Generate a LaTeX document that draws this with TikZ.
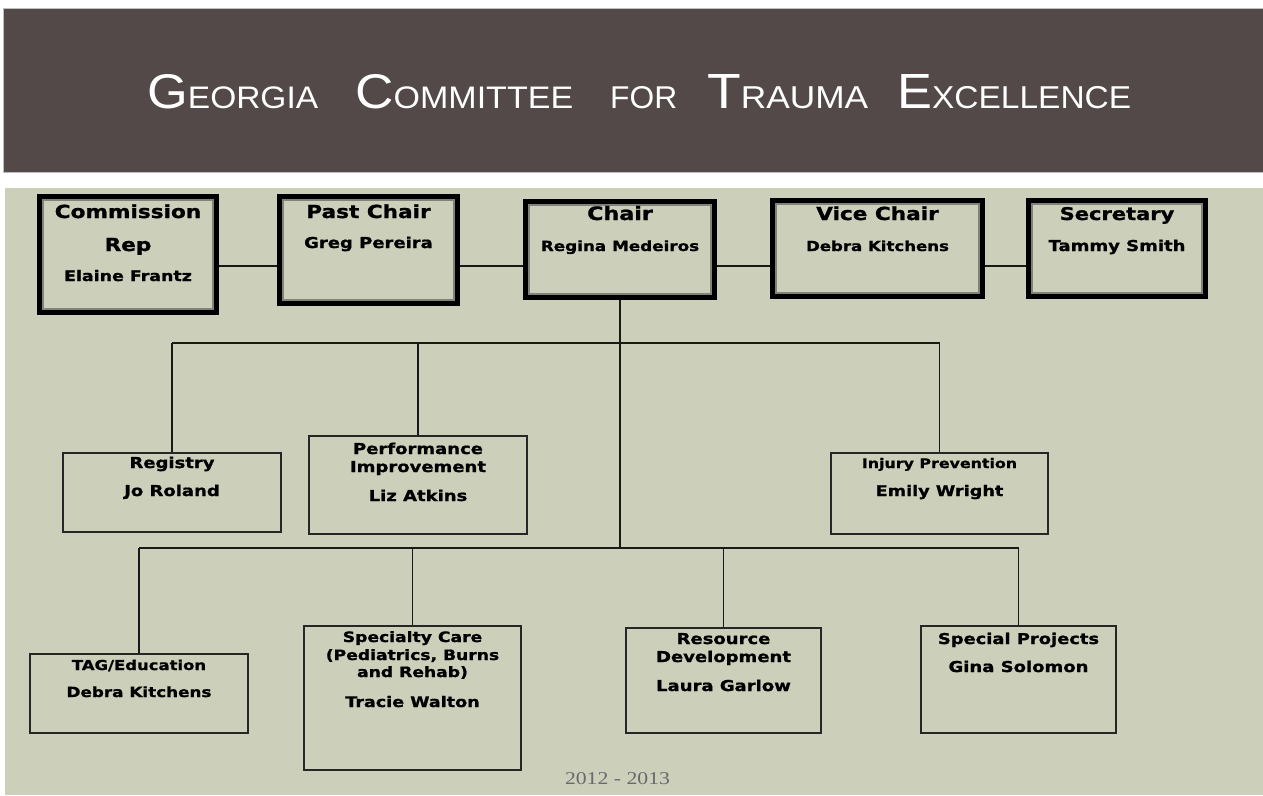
\documentclass[tikz,border=0pt]{standalone}
\usepackage{fontspec}
\usepackage{graphicx}
\setmainfont{Liberation Serif}
\newfontfamily\titlefont{Liberation Sans}
\newfontfamily\boxfont{DejaVu Sans}[FakeStretch=1.2,FakeBold=1.2]
\usetikzlibrary{calc}
\definecolor{hdr}{RGB}{82,73,72}
\definecolor{khaki}{RGB}{204,208,186}
\definecolor{footgray}{RGB}{105,105,110}
\definecolor{frameline}{RGB}{130,130,125}

\newcommand\tword[6]{%
  \node[anchor=base west, inner sep=0, text=white] (#1) at (#2,108)
    {\resizebox{#3pt}{#4pt}{\titlefont\fontsize{50}{50}\selectfont #5\fontsize{32}{32}\selectfont #6}};}
\newcommand\boxline[5]{%
  \node[anchor=base, inner sep=0, font=\boxfont\bfseries\fontsize{#4}{#4}\selectfont] (#1) at (#2,#3) {#5};}
\newcommand\topbox[5]{%
  \node[topbox, minimum width={#4-#2-5}, minimum height={#5-#3-5}] (#1) at ({(#2+#4)/2},{(#3+#5)/2}) {};
  \draw[innerframe] ($(#1.north west)+(6,6)$) rectangle ($(#1.south east)+(-6,-6)$);}
\newcommand\lowbox[5]{%
  \node[lowbox, minimum width={#4-#2-2}, minimum height={#5-#3-2}] (#1) at ({(#2+#4)/2},{(#3+#5)/2}) {};}

\begin{document}
\begin{tikzpicture}[x=1pt,y=-1pt,
  topbox/.style={draw=black, line width=5pt, fill=khaki, inner sep=0},
  innerframe/.style={draw=frameline, line width=1.5pt},
  lowbox/.style={draw=black!85, line width=2pt, fill=khaki, inner sep=0},
  conn/.style={draw=black!90, line width=1.8pt}]
\useasboundingbox (0,0) rectangle (1263,795);
\fill[white] (0,0) rectangle (1263,795);
\fill[hdr] (3,8) rectangle (1263,172);
\draw[black!25, line width=0.8pt] (3,8) rectangle (1264,172);
\fill[khaki] (5,188) rectangle (1263,795);

% title
\tword{t1}{147}{171}{34}{G}{EORGIA}
\tword{t2}{355}{218}{34}{C}{OMMITTEE}
\tword{t3}{610}{67}{22}{}{FOR}
\tword{t4}{707}{161}{34}{T}{RAUMA}
\tword{t5}{897}{234}{34}{E}{XCELLENCE}

% helper coordinates
\coordinate (h) at (0,266);
\coordinate (b1) at (0,343);
\coordinate (b2) at (0,548);

% top boxes
\topbox{cr}{37}{194}{219}{315}
\topbox{pc}{277}{194}{460}{306}
\topbox{ch}{523}{199}{717}{300}
\topbox{vc}{770}{198}{985}{299}
\topbox{se}{1026}{198}{1208}{299}

% lower boxes
\lowbox{reg}{62}{452}{282}{533}
\lowbox{pi}{308}{435}{528}{535}
\lowbox{ip}{830}{452}{1049}{535}
\lowbox{tag}{29}{653}{249}{734}
\lowbox{spc}{303}{625}{522}{771}
\lowbox{rd}{625}{627}{822}{734}
\lowbox{sp}{920}{625}{1117}{734}

% connectors
\draw[conn] (cr.east |- h) -- (pc.west |- h);
\draw[conn] (pc.east |- h) -- (ch.west |- h);
\draw[conn] (ch.east |- h) -- (vc.west |- h);
\draw[conn] (vc.east |- h) -- (se.west |- h);
\draw[conn] (ch.south) -- (ch.south |- b2);
\draw[conn] (reg.north |- b1) -- (ip.north |- b1);
\draw[conn] (reg.north |- b1) -- (reg.north);
\draw[conn] (pi.north |- b1) -- (pi.north);
\draw[conn] (ip.north |- b1) -- (ip.north);
\draw[conn] (tag.north |- b2) -- (sp.north |- b2);
\draw[conn] (tag.north |- b2) -- (tag.north);
\draw[conn] (spc.north |- b2) -- (spc.north);
\draw[conn] (rd.north |- b2) -- (rd.north);
\draw[conn] (sp.north |- b2) -- (sp.north);

% top box texts
\boxline{cr1}{128}{218}{18}{Commission}
\boxline{cr2}{128}{251}{18}{Rep}
\boxline{cr3}{128}{281}{14.5}{Elaine Frantz}
\boxline{pc1}{368.5}{218}{18}{Past Chair}
\boxline{pc2}{368.5}{248}{15}{Greg Pereira}
\boxline{ch1}{620}{220}{18.5}{Chair}
\boxline{ch2}{620}{251}{14}{Regina Medeiros}
\boxline{vc1}{877.5}{220}{18}{Vice Chair}
\boxline{vc2}{877.5}{251}{13.8}{Debra Kitchens}
\boxline{se1}{1117}{220}{17.5}{Secretary}
\boxline{se2}{1117}{251}{15}{Tammy Smith}

% lower box texts
\boxline{rg1}{172}{468}{15}{Registry}
\boxline{rg2}{172}{496}{15}{Jo Roland}
\boxline{pi1}{418}{454}{15}{Performance}
\boxline{pi2}{418}{472}{15}{Improvement}
\boxline{pi3}{418}{501}{15}{Liz Atkins}
\boxline{ip1}{939.5}{468}{13.2}{Injury Prevention}
\boxline{ip2}{939.5}{496}{14.7}{Emily Wright}
\boxline{tg1}{139}{670}{13.7}{TAG/Education}
\boxline{tg2}{139}{697}{14}{Debra Kitchens}
\boxline{sc1}{412.5}{642}{14.3}{Specialty Care}
\boxline{sc2}{412.5}{660}{14.3}{(Pediatrics, Burns}
\boxline{sc3}{412.5}{677}{14.3}{and Rehab)}
\boxline{sc4}{412.5}{707}{14.6}{Tracie Walton}
\boxline{rd1}{723.5}{644}{15}{Resource}
\boxline{rd2}{723.5}{662}{15}{Development}
\boxline{rd3}{723.5}{691}{15}{Laura Garlow}
\boxline{sp1}{1018.5}{644}{14.9}{Special Projects}
\boxline{sp2}{1018.5}{672}{15}{Gina Solomon}

% footer
\node[anchor=base, inner sep=0, text=footgray] (yr) at (617.5,784)
  {\resizebox{105pt}{12pt}{\fontsize{14}{14}\selectfont 2012 - 2013}};
\end{tikzpicture}
\end{document}
